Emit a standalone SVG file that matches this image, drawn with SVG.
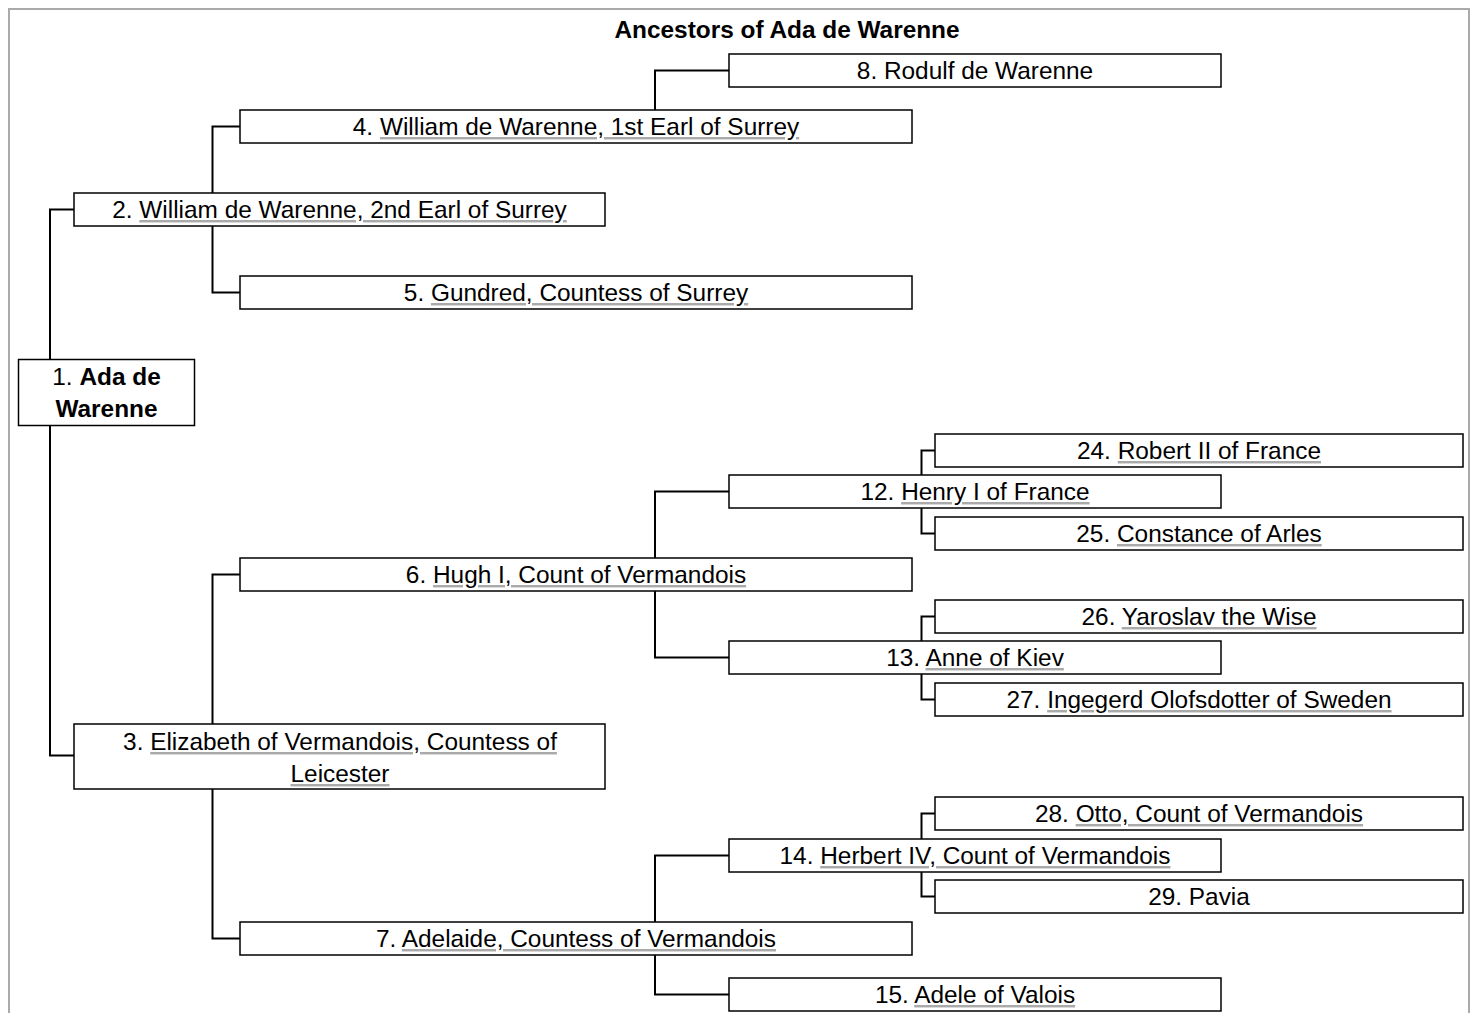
<svg xmlns="http://www.w3.org/2000/svg" width="1475" height="1013" viewBox="0 0 1475 1013">
<style>
.frame{fill:#fff;stroke:#aaaaaa;stroke-width:2}
.box{fill:#fff;stroke:#000;stroke-width:1.5}
.conn{fill:none;stroke:#000;stroke-width:2}
text{font-family:"Liberation Sans",Arial,sans-serif;font-size:24.4px;fill:#000;text-anchor:middle}
.title{font-weight:bold}
.lk{fill:#aaaaaa;text-decoration:underline;text-decoration-skip-ink:none;text-underline-offset:4px}
.lk tspan{fill:#000}
</style>
<rect class="frame" x="9" y="9" width="1460" height="1100"/>
<text class="title" x="787" y="38">Ancestors of Ada de Warenne</text>
<g id="connectors">
<path class="conn" d="M74,209.5H50V755.5H74"/>
<path class="conn" d="M240,126.5H212.5V292.5H240"/>
<path class="conn" d="M655,110V70.5H729"/>
<path class="conn" d="M240,574.5H212.5V938.5H240"/>
<path class="conn" d="M729,491.5H655V657.5H729"/>
<path class="conn" d="M729,855.5H655V994.5H729"/>
<path class="conn" d="M935,450.5H921.5V533.5H935"/>
<path class="conn" d="M935,616.5H921.5V699.5H935"/>
<path class="conn" d="M935,813.5H921.5V896.5H935"/>
</g>
<g id="node1"><rect class="box" x="18.5" y="359.5" width="176" height="66"/><text x="106.5" y="385">1. <tspan font-weight="bold">Ada de</tspan></text><text x="106.5" y="417" font-weight="bold">Warenne</text></g>
<g id="node2"><rect class="box" x="74" y="193" width="531" height="33"/><text x="339.5" y="218">2. <tspan class="lk"><tspan>William de Warenne, 2nd Earl of Surrey</tspan></tspan></text></g>
<g id="node3"><rect class="box" x="74" y="724" width="531" height="65"/><text x="340" y="750">3. <tspan class="lk"><tspan>Elizabeth of Vermandois, Countess of</tspan></tspan></text><text x="340" y="782"><tspan class="lk"><tspan>Leicester</tspan></tspan></text></g>
<g id="node4"><rect class="box" x="240" y="110" width="672" height="33"/><text x="576" y="135">4. <tspan class="lk"><tspan>William de Warenne, 1st Earl of Surrey</tspan></tspan></text></g>
<g id="node5"><rect class="box" x="240" y="276" width="672" height="33"/><text x="576" y="301">5. <tspan class="lk"><tspan>Gundred, Countess of Surrey</tspan></tspan></text></g>
<g id="node6"><rect class="box" x="240" y="558" width="672" height="33"/><text x="576" y="583">6. <tspan class="lk"><tspan>Hugh I, Count of Vermandois</tspan></tspan></text></g>
<g id="node7"><rect class="box" x="240" y="922" width="672" height="33"/><text x="576" y="947">7. <tspan class="lk"><tspan>Adelaide, Countess of Vermandois</tspan></tspan></text></g>
<g id="node8"><rect class="box" x="729" y="54" width="492" height="33"/><text x="975" y="79">8. Rodulf de Warenne</text></g>
<g id="node12"><rect class="box" x="729" y="475" width="492" height="33"/><text x="975" y="500">12. <tspan class="lk"><tspan>Henry I of France</tspan></tspan></text></g>
<g id="node13"><rect class="box" x="729" y="641" width="492" height="33"/><text x="975" y="666">13. <tspan class="lk"><tspan>Anne of Kiev</tspan></tspan></text></g>
<g id="node14"><rect class="box" x="729" y="839" width="492" height="33"/><text x="975" y="864">14. <tspan class="lk"><tspan>Herbert IV, Count of Vermandois</tspan></tspan></text></g>
<g id="node15"><rect class="box" x="729" y="978" width="492" height="33"/><text x="975" y="1003">15. <tspan class="lk"><tspan>Adele of Valois</tspan></tspan></text></g>
<g id="node24"><rect class="box" x="935" y="434" width="528" height="33"/><text x="1199" y="459">24. <tspan class="lk"><tspan>Robert II of France</tspan></tspan></text></g>
<g id="node25"><rect class="box" x="935" y="517" width="528" height="33"/><text x="1199" y="542">25. <tspan class="lk"><tspan>Constance of Arles</tspan></tspan></text></g>
<g id="node26"><rect class="box" x="935" y="600" width="528" height="33"/><text x="1199" y="625">26. <tspan class="lk"><tspan>Yaroslav the Wise</tspan></tspan></text></g>
<g id="node27"><rect class="box" x="935" y="683" width="528" height="33"/><text x="1199" y="708">27. <tspan class="lk"><tspan>Ingegerd Olofsdotter of Sweden</tspan></tspan></text></g>
<g id="node28"><rect class="box" x="935" y="797" width="528" height="33"/><text x="1199" y="822">28. <tspan class="lk"><tspan>Otto, Count of Vermandois</tspan></tspan></text></g>
<g id="node29"><rect class="box" x="935" y="880" width="528" height="33"/><text x="1199" y="905">29. Pavia</text></g>
</svg>
